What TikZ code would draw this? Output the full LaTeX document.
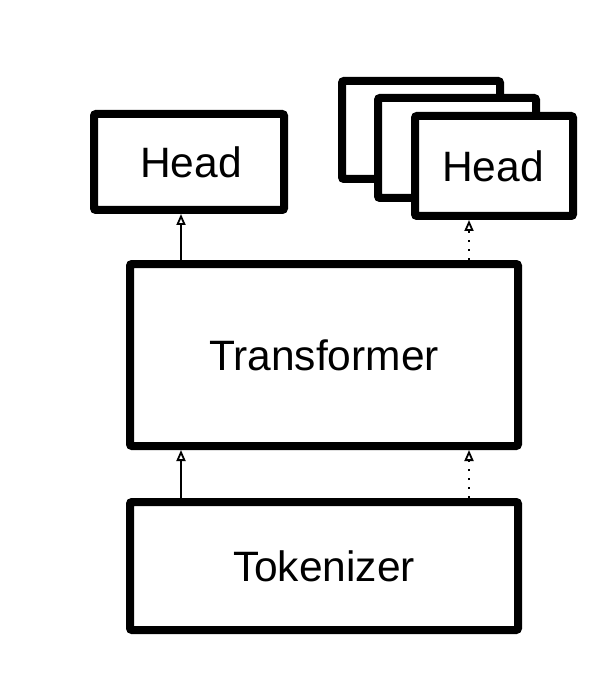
\documentclass[tikz,border=0pt]{standalone}
\usepackage{fontspec}
\setmainfont{Liberation Sans}
\usetikzlibrary{arrows.meta}
\begin{document}
\begin{tikzpicture}[x=1pt,y=-1pt,
  box/.style={draw=black,line width=8pt,fill=white,rounded corners=2pt,inner sep=0pt,
    font=\fontsize{42.5}{50}\selectfont},
  arr/.style={line width=1.8pt,-{Triangle[open,length=11pt,width=9pt,line width=1.8pt]}},
  dotarr/.style={arr,dash pattern=on 2pt off 7pt}]
\useasboundingbox (0,0) rectangle (614,684);
\node[box,minimum width=190pt,minimum height=96pt] (head) at (189,162) {\hspace*{4pt}Head};
\node[box,minimum width=158pt,minimum height=98pt] (headc) at (421,130) {};
\node[box,minimum width=158pt,minimum height=100pt] (headb) at (457,148) {};
\node[box,minimum width=158pt,minimum height=100pt] (heada) at (494,166) {\hspace*{-2pt}Head};
\node[box,minimum width=388pt,minimum height=182pt] (trans) at (324,355) {Transformer};
\node[box,minimum width=388pt,minimum height=128pt] (tok) at (324,566) {Tokenizer};
\coordinate (xl) at (181,0);
\coordinate (xr) at (469,0);
\draw[arr] (trans.north -| xl) -- (head.south -| xl);
\draw[dotarr] (trans.north -| xr) -- (heada.south -| xr);
\draw[arr] (tok.north -| xl) -- (trans.south -| xl);
\draw[dotarr] (tok.north -| xr) -- (trans.south -| xr);
\end{tikzpicture}
\end{document}
